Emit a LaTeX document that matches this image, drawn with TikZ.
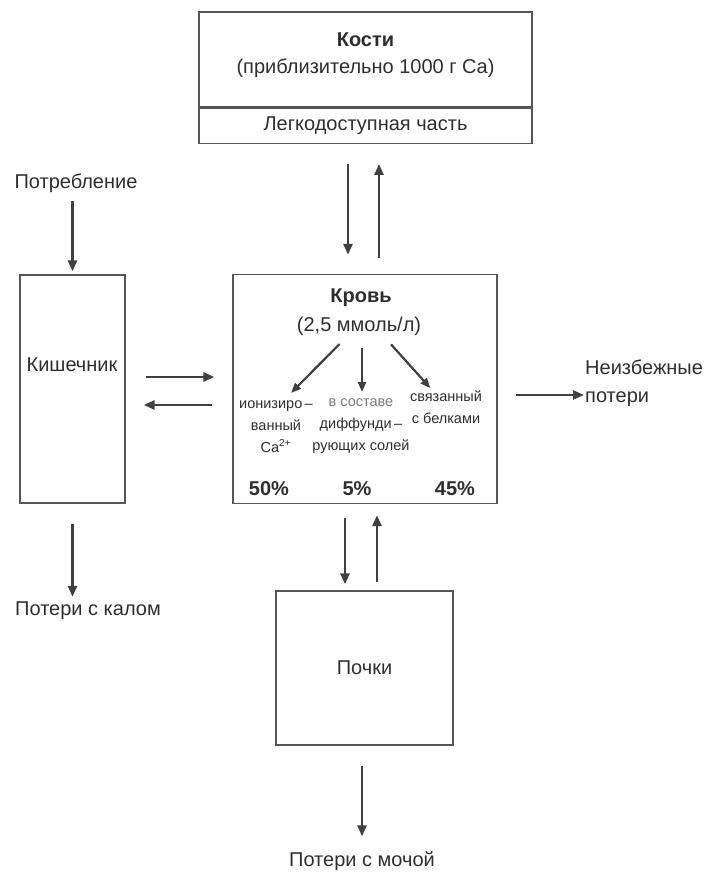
\documentclass[tikz,border=0pt]{standalone}
\usepackage{fontspec}
\setmainfont{Liberation Sans}
\usetikzlibrary{arrows.meta, positioning}

\definecolor{boxgray}{HTML}{555555}
\definecolor{inkgray}{HTML}{2E2E2E}
\definecolor{arrowgray}{HTML}{404040}
\definecolor{palegray}{HTML}{7A7A7A}

\begin{document}
\begin{tikzpicture}[
    x=1pt, y=-1pt,
    box/.style={rectangle, draw=boxgray, line width=1.3pt, inner sep=0pt, text=inkgray, font=\fontsize{20}{28}\selectfont},
    txt/.style={inner sep=0pt, text=inkgray, align=center, font=\fontsize{20}{28}\selectfont},
    boldtxt/.style={txt, font=\fontsize{20}{28}\selectfont\bfseries},
    small/.style={inner sep=0pt, text=inkgray, align=center, font=\fontsize{14.5}{22}\selectfont},
    arrow/.style={-{Triangle[length=11pt, width=9pt]}, line width=2.6pt, draw=arrowgray},
    thinarrow/.style={-{Triangle[length=10pt, width=8pt]}, line width=2.2pt, draw=arrowgray}
]
\useasboundingbox (0,0) rectangle (711,872);

% Bones
\node[box, minimum width=333pt, minimum height=95pt] (bones) at (365.5,59.5) {};
\node[box, minimum width=333pt, minimum height=35pt, below=0pt of bones] (bonesfast) {Легкодоступная часть};
\node[boldtxt] (bonesname) at (365.5,40) {Кости};
\node[txt] (bonesca) at (365.5,68) {(приблизительно 1000 г Ca)};

% Blood
\node[box, minimum width=264pt, minimum height=229pt] (blood) at (365,389) {};
\node[boldtxt] (bloodname) at (361,298) {Кровь};
\node[txt] (bloodconc) at (359,326) {(2,5 ммоль/л)};
\node[small, anchor=north] (ion) at (276,400) {ионизиро\,–\\ванный\\Ca\textsuperscript{2+}};
\node[small, anchor=north] (diff) at (361,398) {\textcolor{palegray}{в составе}\\диффунди\,–\\рующих солей};
\node[small, anchor=north] (bound) at (446,391) {связанный\\с белками};
\node[boldtxt] (pction) at (269,489) {50\%};
\node[boldtxt] (pctdiff) at (357,489) {5\%};
\node[boldtxt] (pctbound) at (455,489) {45\%};

% Gut and kidneys
\node[box, minimum width=105pt, minimum height=228pt] (gut) at (72.5,389) {};
\node[txt] (gutname) at (72,365) {Кишечник};
\node[box, minimum width=177pt, minimum height=154pt] (kidney) at (364.5,668) {Почки};

% Outer labels
\node[txt] (intake) at (76,183) {Потребление};
\node[txt] (fecal) at (88,611) {Потери с калом};
\node[txt] (urine) at (362,861) {Потери с мочой};
\node[txt, align=left, anchor=west] (loss) at (585,383) {Неизбежные\\ потери};

% Exchange arrows
\draw[arrow, shorten <=20pt, shorten >=19pt] ([xshift=-17.5pt]bonesfast.south) -- ([xshift=-17.5pt]bonesfast.south |- blood.north);
\draw[arrow, shorten <=16pt, shorten >=20pt] ([xshift=13.5pt]bonesfast.south |- blood.north) -- ([xshift=13.5pt]bonesfast.south);
\draw[arrow, shorten <=20pt, shorten >=18pt] ([yshift=12pt]gut.east) -- ([yshift=12pt]blood.west);
\draw[arrow, shorten <=20pt, shorten >=18pt] ([yshift=-16pt]blood.west) -- ([yshift=-16pt]gut.east);
\draw[arrow, shorten <=18pt, shorten >=1pt] ([yshift=-6pt]blood.east) -- ([yshift=-6pt]blood.east -| loss.west);
\draw[arrow, shorten <=14pt, shorten >=6pt] ([xshift=-20pt]blood.south) -- ([xshift=-20pt]blood.south |- kidney.north);
\draw[arrow, shorten <=8pt, shorten >=11pt] ([xshift=12pt]blood.south |- kidney.north) -- ([xshift=12pt]blood.south);
\draw[arrow, shorten <=8pt, shorten >=3pt] (intake.south -| gut.north) -- (gut.north);
\draw[arrow, shorten <=20pt, shorten >=5pt] (gut.south) -- (gut.south |- fecal.north);
\draw[arrow, shorten <=20pt, shorten >=15pt] (kidney.south -| urine) -- (urine.north);

% Blood fractions
\draw[thinarrow, shorten <=12pt, shorten >=10pt] ([xshift=-11pt]bloodconc.south) -- ([xshift=8pt]ion.north);
\draw[thinarrow, shorten <=12pt, shorten >=6pt] ([xshift=3pt]bloodconc.south) -- ([xshift=1pt]diff.north);
\draw[thinarrow, shorten <=12pt, shorten >=4pt] ([xshift=24pt]bloodconc.south) -- ([xshift=-13pt]bound.north);

\end{tikzpicture}
\end{document}
